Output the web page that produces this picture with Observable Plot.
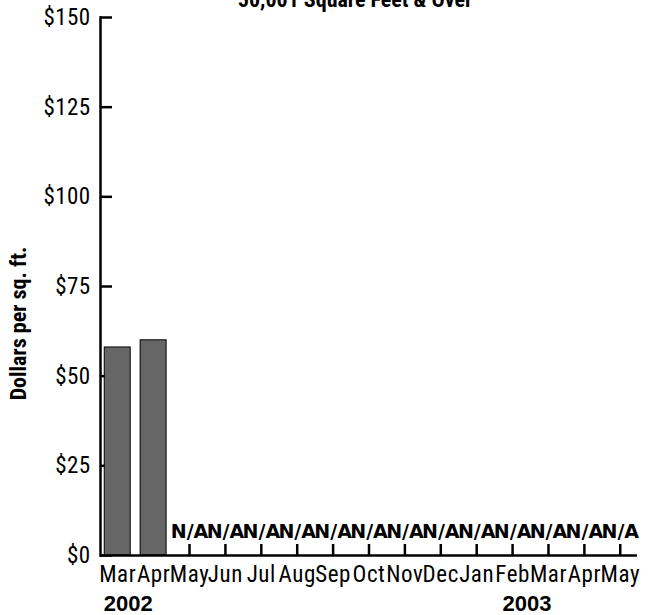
<!DOCTYPE html>
<html><head><meta charset="utf-8">
<script src="https://cdn.jsdelivr.net/npm/d3@7"></script>
<script src="https://cdn.jsdelivr.net/npm/@observablehq/plot@0.6"></script>
<style>
body{margin:0;background:#fff} #chart svg{display:block}
#chart g[aria-label="x-axis tick label"] text{letter-spacing:0.6px}
#chart g[aria-label="y-axis tick label"] text{letter-spacing:0.4px}
</style>
</head><body><div id="chart"></div>
<script>
const months = ["Mar","Apr","May","Jun","Jul","Aug","Sep","Oct","Nov","Dec","Jan","Feb","Mar","Apr","May"];
const years = [2002,2002,2002,2002,2002,2002,2002,2002,2002,2002,2003,2003,2003,2003,2003];
const values = [58,60,null,null,null,null,null,null,null,null,null,null,null,null,null];
const yTicks = [0,25,50,75,100,125,150];
const yearLabels = ["2002","2003"];
const yearLabelKeys = ["Mar 2002","Feb 2003"];
const title = "50,001 Square Feet & Over";
const yLabel = "Dollars per sq. ft.";
const naText = "N/A";

const keys = months.map((m,i)=>`${m} ${years[i]}`);
const data = keys.map((k,i)=>({key:k, month:months[i], value:values[i]}));
const bars = data.filter(d=>d.value!=null);
const na = data.filter(d=>d.value==null);
const monthOf = new Map(data.map(d=>[d.key,d.month]));
function yearData(i){ return [{key:yearLabelKeys[i], text:yearLabels[i]}]; }

const cond = '"Roboto Condensed", Roboto, sans-serif';
const boldWide = '"Liberation Sans", Arial, sans-serif';

const chart = Plot.plot({
  width:657, height:615,
  marginLeft:100, marginRight:20, marginTop:17, marginBottom:60,
  style:{fontFamily: cond, fontSize:"22px", color:"#000", background:"#fff", overflow:"visible"},
  x:{type:"band", domain:keys, paddingInner:0.276, paddingOuter:0.118, round:false, axis:null},
  y:{domain:[0,150], axis:null},
  marks:[
    Plot.axisY(yTicks, {tickSize:12, dx:12, fill:"none", strokeWidth:2.5, label:null}),
    Plot.axisY(yTicks, {tickSize:0, tickPadding:10, tickFormat:d=>"$"+d, label:null, fontSize:23, fontFamily:cond}),
    Plot.axisX(keys, {tickSize:11, dy:-11, fill:"none", strokeWidth:2.5, label:null}),
    Plot.axisX(keys, {tickSize:0, tickPadding:10, tickFormat:k=>monthOf.get(k), label:null, fontSize:23, fontFamily:cond}),
    Plot.barY(bars, {x:"key", y:"value", fill:"#666666", stroke:"#000", strokeWidth:1}),
    Plot.ruleY([0], {stroke:"#000", strokeWidth:2.5}),
    Plot.frame({anchor:"left", stroke:"#000", strokeWidth:2.5}),
    Plot.text(na, {x:"key", y:0, text:()=>naText, lineAnchor:"bottom", dy:-18, dx:0, fontWeight:"bold", fontFamily:"DejaVu Sans", fontSize:19, fill:"#000"}),
    Plot.text(yearData(0), {x:"key", text:"text", frameAnchor:"bottom", lineAnchor:"top", textAnchor:"start", dy:40, dx:-14, fontWeight:"bold", fontFamily:boldWide, fontSize:22, fill:"#000"}),
    Plot.text(yearData(1), {x:"key", text:"text", frameAnchor:"bottom", lineAnchor:"top", textAnchor:"start", dy:40, dx:-10, fontWeight:"bold", fontFamily:boldWide, fontSize:22, fill:"#000"}),
    Plot.text([title], {text:d=>d, frameAnchor:"top", lineAnchor:"bottom", dy:-11, dx:-14, fontWeight:"bold", fontFamily:cond, fontSize:22, fill:"#000"}),
    Plot.text([yLabel], {text:d=>d, frameAnchor:"left", textAnchor:"middle", rotate:-90, dx:-82, dy:37, fontWeight:"bold", fontFamily:cond, fontSize:22, fill:"#000"})
  ]
});
document.getElementById("chart").appendChild(chart);
</script>
</body></html>
